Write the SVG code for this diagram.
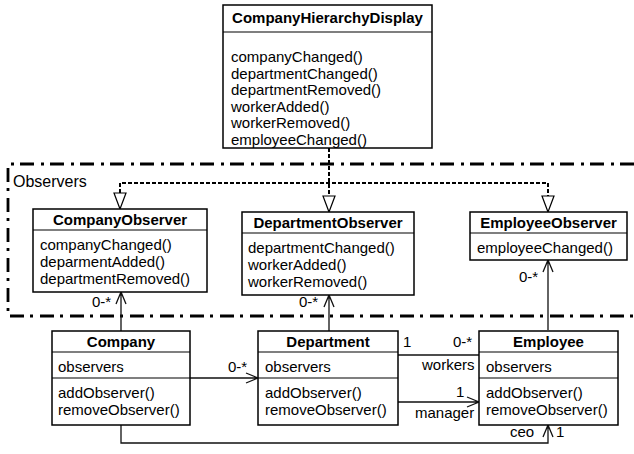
<svg xmlns="http://www.w3.org/2000/svg" width="634" height="454" viewBox="0 0 634 454">
  <style>
    .box { fill: #fff; stroke: #000; stroke-width: 1.5; }
    .sep { stroke: #000; stroke-width: 1.2; }
    .name { font-family: "Liberation Sans", Arial, sans-serif; font-size: 15px; font-weight: bold; text-anchor: middle; fill: #000; }
    .txt { font-family: "Liberation Sans", Arial, sans-serif; font-size: 15px; fill: #000; }
    .lbl { font-family: "Liberation Sans", Arial, sans-serif; font-size: 15px; fill: #000; }
    .assoc { fill: none; stroke: #111; stroke-width: 1.3; }
    .realize { fill: none; stroke: #000; stroke-width: 2; stroke-dasharray: 4 2; }
    .tri { fill: #fff; stroke: #000; stroke-width: 1.2; }
    .pkg { fill: none; stroke: #000; stroke-width: 2.8; stroke-dasharray: 14 6 3 7; }
  </style>

  <!-- package frame -->
  <g id="observers-package">
    <path class="pkg" d="M634,164 H8 V316 H634"/>
    <text class="txt" x="13" y="187" style="font-size:16px">Observers</text>
  </g>

  <!-- connectors -->
  <g id="connectors">
    <!-- realization lines from the display to the observer interfaces -->
    <path class="realize" d="M329,148 V196"/>
    <path class="realize" d="M120,193 V183 H548 V196"/>
    <polygon class="tri" points="114,193 126,193 120,209"/>
    <polygon class="tri" points="323,196 335,196 329,212"/>
    <polygon class="tri" points="542,196 554,196 548,212"/>

    <!-- observer associations -->
    <path class="assoc" d="M121,331 V292 M116,304 L121,292 L126,304"/>
    <path class="assoc" d="M329,331 V295 M324,307 L329,295 L334,307"/>
    <path class="assoc" d="M548,330 V260 M543,272 L548,260 L553,272"/>

    <!-- company to departments -->
    <path class="assoc" d="M190,378 H258 M246,373 L258,378 L246,383"/>
    <!-- department workers -->
    <path class="assoc" d="M398,355 H479"/>
    <!-- department manager -->
    <path class="assoc" d="M398,402 H479 M467,397 L479,402 L467,407"/>
    <!-- company ceo -->
    <path class="assoc" d="M121,425 V443 H548 V425 M543,437 L548,425 L553,437"/>

    <text class="lbl" x="92" y="307">0-*</text>
    <text class="lbl" x="299" y="307">0-*</text>
    <text class="lbl" x="519" y="282">0-*</text>
    <text class="lbl" x="228" y="372">0-*</text>
    <text class="lbl" x="403" y="347">1</text>
    <text class="lbl" x="453" y="347">0-*</text>
    <text class="lbl" x="422" y="370">workers</text>
    <text class="lbl" x="456" y="397">1</text>
    <text class="lbl" x="415" y="418">manager</text>
    <text class="lbl" x="510" y="437">ceo</text>
    <text class="lbl" x="556" y="437">1</text>
  </g>

  <g id="CompanyHierarchyDisplay">
    <rect class="box" x="223" y="5" width="209" height="143"/>
    <line class="sep" x1="223" y1="32" x2="432" y2="32"/>
    <text class="name" x="327.5" y="23">CompanyHierarchyDisplay</text>
    <text class="txt" x="231" y="62">companyChanged()</text>
    <text class="txt" x="231" y="78.5">departmentChanged()</text>
    <text class="txt" x="231" y="95">departmentRemoved()</text>
    <text class="txt" x="231" y="111.5">workerAdded()</text>
    <text class="txt" x="231" y="128">workerRemoved()</text>
    <text class="txt" x="231" y="144.5">employeeChanged()</text>
  </g>

  <g id="CompanyObserver">
    <rect class="box" x="33" y="209" width="174" height="83"/>
    <line class="sep" x1="33" y1="230" x2="207" y2="230"/>
    <text class="name" x="120" y="225">CompanyObserver</text>
    <text class="txt" x="40" y="250">companyChanged()</text>
    <text class="txt" x="40" y="267">deparmentAdded()</text>
    <text class="txt" x="40" y="284">departmentRemoved()</text>
  </g>

  <g id="DepartmentObserver">
    <rect class="box" x="242" y="212" width="172" height="83"/>
    <line class="sep" x1="242" y1="233" x2="414" y2="233"/>
    <text class="name" x="328" y="228">DepartmentObserver</text>
    <text class="txt" x="248" y="253">departmentChanged()</text>
    <text class="txt" x="248" y="270">workerAdded()</text>
    <text class="txt" x="248" y="287">workerRemoved()</text>
  </g>

  <g id="EmployeeObserver">
    <rect class="box" x="470" y="212" width="157" height="48"/>
    <line class="sep" x1="470" y1="233" x2="627" y2="233"/>
    <text class="name" x="548.5" y="228">EmployeeObserver</text>
    <text class="txt" x="477" y="253">employeeChanged()</text>
  </g>

  <g id="Company">
    <rect class="box" x="52" y="331" width="138" height="94"/>
    <line class="sep" x1="52" y1="352" x2="190" y2="352"/>
    <line class="sep" x1="52" y1="378" x2="190" y2="378"/>
    <text class="name" x="121" y="347">Company</text>
    <text class="txt" x="58" y="372">observers</text>
    <text class="txt" x="58" y="398">addObserver()</text>
    <text class="txt" x="58" y="415">removeObserver()</text>
  </g>

  <g id="Department">
    <rect class="box" x="258" y="331" width="140" height="94"/>
    <line class="sep" x1="258" y1="352" x2="398" y2="352"/>
    <line class="sep" x1="258" y1="378" x2="398" y2="378"/>
    <text class="name" x="328" y="347">Department</text>
    <text class="txt" x="265" y="372">observers</text>
    <text class="txt" x="265" y="398">addObserver()</text>
    <text class="txt" x="265" y="415">removeObserver()</text>
  </g>

  <g id="Employee">
    <rect class="box" x="479" y="331" width="139" height="94"/>
    <line class="sep" x1="479" y1="352" x2="618" y2="352"/>
    <line class="sep" x1="479" y1="378" x2="618" y2="378"/>
    <text class="name" x="548.5" y="347">Employee</text>
    <text class="txt" x="486" y="372">observers</text>
    <text class="txt" x="486" y="398">addObserver()</text>
    <text class="txt" x="486" y="415">removeObserver()</text>
  </g>
</svg>
